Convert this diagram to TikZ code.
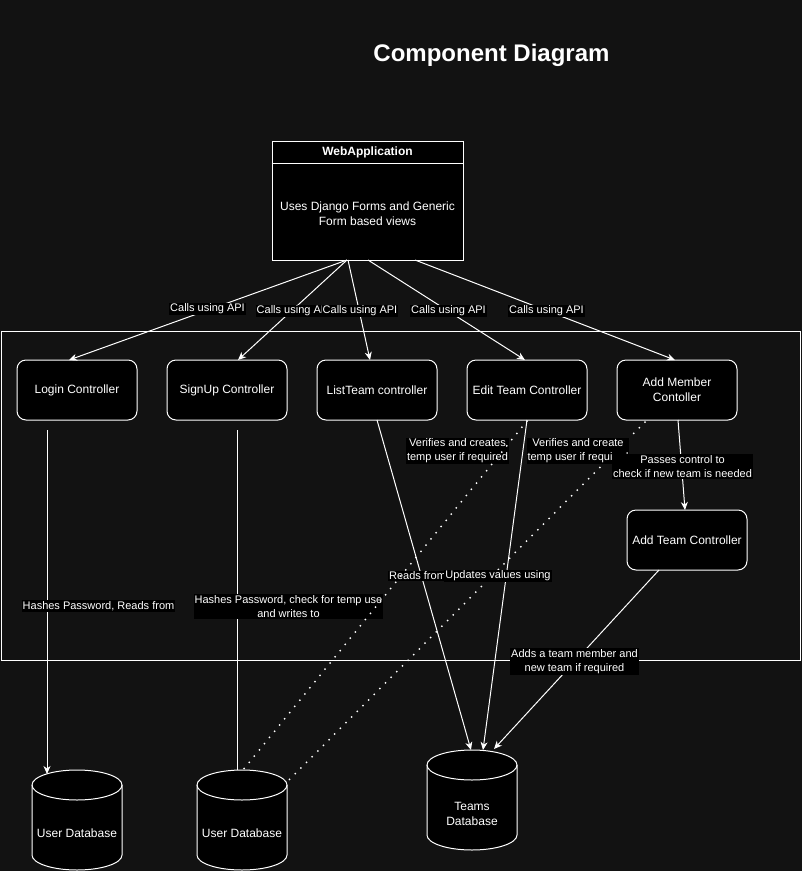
\documentclass[tikz,border=0pt]{standalone}
\usepackage{fontspec}
\setmainfont{Liberation Sans}
\usetikzlibrary{arrows.meta}
\definecolor{bgc}{RGB}{18,18,18}
\begin{document}
\begin{tikzpicture}[x=1pt,y=-1pt,
  every node/.style={text=white},
  ctrl/.style={draw=white, fill=black, rounded corners=9pt, minimum width=120pt, minimum height=60pt, inner sep=0pt, line width=1pt, align=center, font=\fontsize{12}{15}\selectfont},
  lbl/.style={fill=black, inner xsep=1pt, inner ysep=1pt, align=center, font=\fontsize{11}{14}\selectfont},
  conn/.style={draw=white, line width=1pt},
  arr/.style={conn, -{Stealth[length=8pt,width=7pt,inset=2.5pt]}},
  dotline/.style={draw=white, line width=2pt, line cap=round, dash pattern=on 0pt off 8pt},
  dbtext/.style={align=center, font=\fontsize{12}{15}\selectfont},
  cyl/.pic={
    \filldraw[draw=white, fill=black, line width=1pt] (-45,-35) -- (-45,35)
      arc[start angle=180,end angle=360,x radius=45pt,y radius=15pt] -- (45,-35)
      arc[start angle=0,end angle=180,x radius=45pt,y radius=15pt] -- cycle;
    \draw[white, line width=1pt] (-45,-35) arc[start angle=180,end angle=360,x radius=45pt,y radius=15pt];
  }
]
\fill[bgc] (0,0) rectangle (802,871);
\useasboundingbox (0,0) rectangle (802,871);

% title
\node[font=\fontsize{24}{28}\selectfont\bfseries] (title) at (491.5,55) {Component Diagram};

% frame
\node[draw=white, line width=1pt, minimum width=799pt, minimum height=329pt, inner sep=0pt] (frame) at (400.5,495.5) {};

% web application
\node[draw=white, fill=black, line width=1pt, minimum width=191pt, minimum height=119pt, inner sep=0pt] (web) at (367.5,200.5) {};
\draw[white, line width=1pt] (web.west |- 0,163) -- (web.east |- 0,163);
\node[font=\fontsize{12}{15}\selectfont\bfseries] (webhead) at (367.5,152) {WebApplication};
\node[align=center, font=\fontsize{12}{14.5}\selectfont] (webbody) at (367.5,213.5) {Uses Django Forms and Generic\\Form based views};

% controllers
\node[ctrl] (login) at (77,390) {Login Controller};
\node[ctrl] (signup) at (227,390) {SignUp Controller};
\node[ctrl] (list) at (377,390) {ListTeam controller};
\node[ctrl] (edit) at (527,390) {Edit Team Controller};
\node[ctrl] (addm) at (677,390) {Add Member\\Contoller};
\node[ctrl] (addt) at (687,540) {Add Team Controller};

% databases
\pic at (77,820) {cyl};
\pic at (242,820) {cyl};
\pic at (472,800) {cyl};
\node[minimum width=90pt, minimum height=100pt, inner sep=0pt] (db1) at (77,820) {};
\node[minimum width=90pt, minimum height=100pt, inner sep=0pt] (db2) at (242,820) {};
\node[minimum width=90pt, minimum height=100pt, inner sep=0pt] (tdb) at (472,800) {};
\node[dbtext] (db1t) at (77,833) {User Database};
\node[dbtext] (db2t) at (242,833) {User Database};
\node[dbtext] (tdbt) at (472,813.5) {Teams\\Database};

% connector end points
\coordinate (w1) at (347,260);
\coordinate (w3) at (348,260);
\coordinate (w4) at (368,260);
\coordinate (w5) at (415,260);
\coordinate (t1) at (69,360);
\coordinate (t2) at (238,360);
\coordinate (t3) at (370,360);
\coordinate (t4) at (525,360);
\coordinate (t5) at (675,360);
\coordinate (lgo) at (47,430);
\coordinate (db1in) at (47,774);
\coordinate (sgo) at (237,430);
\coordinate (db2in) at (237,770);
\coordinate (lso) at (377,420);
\coordinate (tin1) at (471,750);
\coordinate (edo) at (527,420);
\coordinate (tin2) at (483,750);
\coordinate (amo) at (678,420);
\coordinate (ati) at (685,510);
\coordinate (ato) at (659,570);
\coordinate (tin3) at (494,749);
\coordinate (do1) at (527,421);
\coordinate (di1) at (243,770);
\coordinate (do2) at (645,422);
\coordinate (di2) at (287,782);

% solid connectors
\draw[arr] (w1) -- (t1);
\draw[arr] (w1) -- (t2);
\draw[arr] (w3) -- (t3);
\draw[arr] (w4) -- (t4);
\draw[arr] (w5) -- (t5);
\draw[arr] (lgo) -- (db1in);
\draw[conn] (sgo) -- (db2in);
\draw[arr] (lso) -- (tin1);
\draw[arr] (edo) -- (tin2);
\draw[arr] (amo) -- (ati);
\draw[arr] (ato) -- (tin3);

% labels (below dotted lines)
\node[lbl] (c1) at (207.5,309) {Calls using API};
\node[lbl] (c2) at (294,311) {Calls using API};
\node[lbl] (c3) at (360,311) {Calls using API};
\node[lbl] (c4) at (448.5,311) {Calls using API};
\node[lbl] (c5) at (546.5,311) {Calls using API};
\node[lbl] (h1) at (98.5,606) {Hashes Password, Reads from};
\node[lbl] (h2) at (288.5,606.5) {Hashes Password, check for temp use\\and writes to};
\node[lbl] (va) at (457.5,451) {Verifies and creates\\temp user if required};
\node[lbl] (rf) at (417.5,576) {Reads from};

% dotted connectors
\draw[dotline] (do1) -- (di1);
\draw[dotline] (do2) -- (di2);

% labels (above dotted lines)
\node[lbl] (vb) at (578,451) {Verifies and create\\temp user if required};
\node[lbl] (pc) at (682.5,466.5) {Passes control to\\check if new team is needed};
\node[lbl] (uv) at (498,576) {Updates values using};
\node[lbl] (ad) at (574.5,661.5) {Adds a team member and\\new team if required};
\end{tikzpicture}
\end{document}
